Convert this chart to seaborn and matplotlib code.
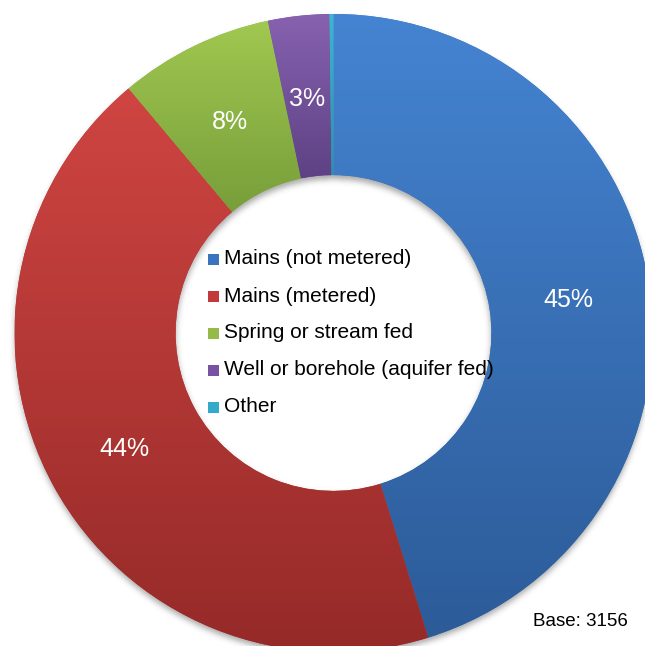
import numpy as np
import matplotlib
matplotlib.use("Agg")
import matplotlib.pyplot as plt
from matplotlib.patches import Rectangle
import seaborn as sns

# Household water supply source (share of respondents, %)
categories = [
    "Mains (not metered)",
    "Mains (metered)",
    "Spring or stream fed",
    "Well or borehole (aquifer fed)",
    "Other",
]
shares = [45.2, 43.7, 7.8, 3.1, 0.2]
base_label = "Base: 3156"

# Vertical fill gradient for each segment: lighter at the top, darker at the bottom
top_colors = ["#4584D2", "#CF4542", "#A1C850", "#8762B0", "#3CB6D4"]
bottom_colors = ["#2C5B98", "#952A28", "#779E3A", "#5E4184", "#2A90AC"]
key_colors = ["#3B74BE", "#C23A3A", "#95BA47", "#7753A1", "#33AACA"]

sns.set_theme(style="white")
plt.rcParams["font.family"] = ["Liberation Sans", "DejaVu Sans"]

W, H = 645, 646
fig = plt.figure(figsize=(W / 100, H / 100), dpi=100)
fig.patch.set_facecolor("white")

cx, cy, R = 333.5, 333, 319
ax = fig.add_axes([(cx - R) / W, 1 - (cy + R) / H, 2 * R / W, 2 * R / H])
ax.set_facecolor("none")

ring_width = 0.505


def pct_text(p):
    return f"{p:.0f}%" if p >= 1 else ""


wedges, _, autotexts = ax.pie(
    shares,
    startangle=90,
    counterclock=False,
    radius=1,
    autopct=pct_text,
    pctdistance=0.745,
    wedgeprops=dict(width=ring_width, linewidth=0, antialiased=True),
    textprops=dict(color="white", fontsize=18),
)

# Gradient fill clipped to each ring segment
for w, c0, c1 in zip(wedges, top_colors, bottom_colors):
    w.set_facecolor(sns.blend_palette([c0, c1], 3)[1])
    w.set_zorder(2)
    ext = w.get_path().get_extents()
    grad = np.array(sns.blend_palette([c0, c1], 256))[:, None, :]
    im = ax.imshow(
        grad,
        extent=(ext.x0, ext.x1, ext.y0, ext.y1),
        origin="upper",
        aspect="auto",
        interpolation="bilinear",
        zorder=3,
    )
    im.set_clip_path(w)

for t in autotexts:
    t.set_zorder(6)
    t.set_verticalalignment("center_baseline")

# Soft drop shadow of the ring, offset downward
n = 800
lim = 1.15
xs = np.linspace(-lim, lim, n)
X, Y = np.meshgrid(xs, xs)
px_data = 2.0 / (2 * R)
off = 4 * px_data
rr = np.hypot(X, Y + off)
mask = ((rr <= 1.0) & (rr >= 1.0 - ring_width)).astype(float)
sigma = 3.0 * px_data / (2 * lim / n)
k = np.exp(-0.5 * (np.arange(-14, 15) / sigma) ** 2)
k /= k.sum()
blur = np.apply_along_axis(lambda v: np.convolve(v, k, mode="same"), 0, mask)
blur = np.apply_along_axis(lambda v: np.convolve(v, k, mode="same"), 1, blur)
shadow = np.zeros((n, n, 4))
shadow[..., :3] = 0.25
shadow[..., 3] = blur * 0.45
sh = ax.imshow(shadow, extent=(-lim, lim, -lim, lim), origin="lower",
               interpolation="bilinear", zorder=1)
sh.set_clip_on(False)

ax.set_xlim(-1, 1)
ax.set_ylim(-1, 1)
ax.set_aspect("equal")
ax.axis("off")

# Key placed inside the ring's hole
key_x, text_x = 208, 224
row_y0, row_step = 259, 37
sq = 11
for i, (label, col) in enumerate(zip(categories, key_colors)):
    yc = row_y0 + i * row_step
    fig.add_artist(Rectangle((key_x / W, 1 - (yc + sq / 2) / H), sq / W, sq / H,
                             transform=fig.transFigure, facecolor=col,
                             edgecolor="none", zorder=10))
    fig.text(text_x / W, 1 - yc / H, label, fontsize=15, va="center",
             ha="left", color="black", zorder=10)

fig.text(533 / W, 1 - 622 / H, base_label, fontsize=13.5, va="center",
         ha="left", color="black", zorder=10)

fig.savefig("out.png", dpi=100, facecolor="white")
